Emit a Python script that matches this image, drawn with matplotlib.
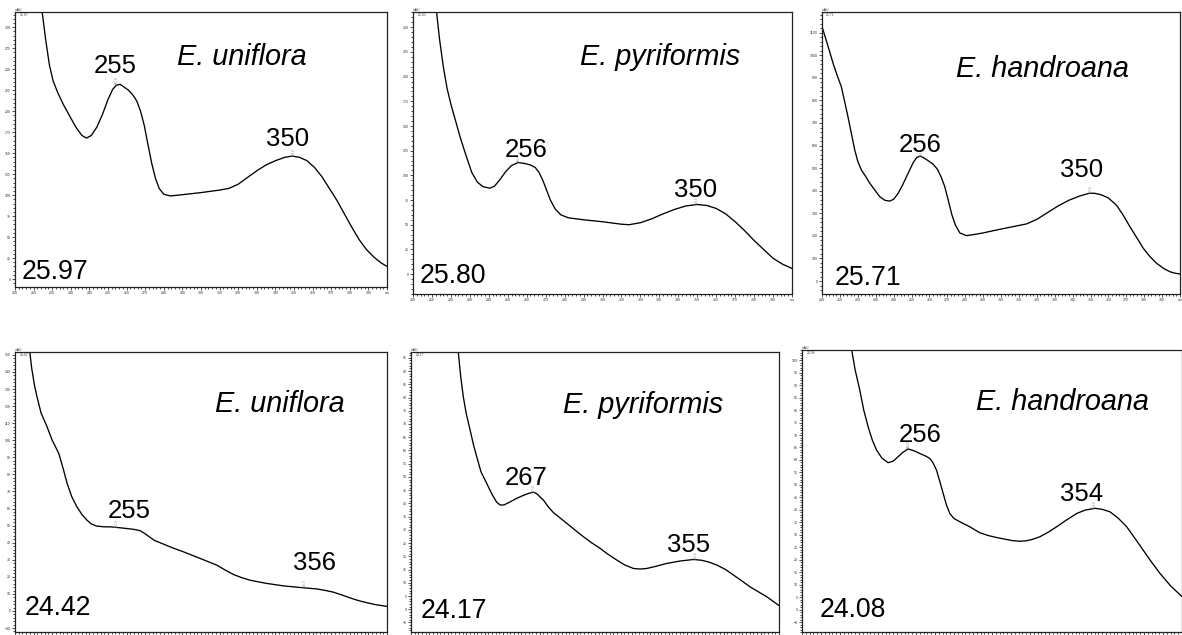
import matplotlib
matplotlib.use('Agg')
import matplotlib.pyplot as plt
import numpy as np
from matplotlib.ticker import MultipleLocator

plt.rcParams['font.family'] = ['Liberation Sans', 'DejaVu Sans']

W, H = 1182, 635

species = ['E. uniflora', 'E. pyriformis', 'E. handroana',
           'E. uniflora', 'E. pyriformis', 'E. handroana']
ret_times = ['25.97', '25.80', '25.71', '24.42', '24.17', '24.08']
peak_a = [255, 256, 256, 255, 267, 256]
peak_b = [350, 350, 350, 356, 355, 354]

# UV spectra (wavelength nm, absorbance mAU)
nm_1 = [214.5, 216.5, 218.5, 220.5, 223, 226, 229.7, 233, 236, 238.4, 241, 244, 247, 250,
        252.5, 254.5, 256.5, 258.5, 261, 263.5, 265.5, 267.5, 269.5, 271.5, 273.5, 275.5,
        277.5, 280, 283.5, 290, 300, 310, 315, 320, 325, 330, 335, 340, 345, 349, 353,
        357, 361, 365, 369, 373, 377, 381, 385, 389, 393, 397, 400]
abs_1 = [320, 285, 255, 236, 222, 208, 193, 180, 171, 168, 171, 181, 196, 214,
         226, 231, 232, 229, 225, 219, 212, 200, 183, 160, 138, 120,
         108, 101, 99, 100.5, 103, 106, 108, 113, 121, 129, 136, 141, 145, 146.5, 145,
         141, 133, 122, 108, 94, 78, 62, 47, 35, 26, 19, 15]

nm_2 = [212.3, 214, 216, 218, 220, 222.5, 225, 228, 231, 234, 237, 240.5, 243, 246, 249,
        252, 255.5, 259, 262, 264.5, 266.5, 268.5, 270.5, 272.5, 275, 278, 282, 290, 300,
        310, 314, 320, 326, 332, 338, 344, 350, 355, 360, 365, 370, 375, 380, 385, 390,
        395, 400]
abs_2 = [268, 238, 210, 188, 172, 155, 138, 120, 103, 93, 88.5, 87, 89, 96, 104,
         110, 113, 112, 110.5, 108, 103, 95, 85, 75, 66, 60, 57, 55, 53,
         50.5, 50, 52, 56, 61, 65.5, 69, 70.5, 69.5, 66.5, 61, 53, 44, 34, 25, 16,
         10, 5.7]

nm_3 = [200, 203, 206.2, 208.5, 210.8, 212.5, 214.5, 216.5, 218.3, 220, 222, 224.5, 226.7,
        229.5, 232.2, 235, 237.8, 240, 242.5, 245, 248.1, 251, 253, 255, 257, 259.5, 262,
        264.5, 266.5, 268.5, 270.5, 272.5, 274.5, 277, 280.7, 285, 290, 297.5, 306.8,
        314.3, 320, 326, 332, 338, 344.1, 349, 352, 356, 360, 364.6, 368, 372, 376,
        379.5, 383, 387, 391, 394.4, 397, 400]
abs_3 = [1127, 1050, 964, 910, 861, 800, 728, 650, 580, 530, 492, 462, 433,
         403, 374, 358, 354, 362, 388, 425, 477, 525, 548, 553, 545, 532, 518,
         495, 462, 420, 359, 295, 248, 213, 201, 206, 213, 226, 241,
         253, 273, 303, 333, 358, 377, 388, 389, 382, 368, 335, 295, 241, 190,
         145, 110, 78, 55, 41, 35, 31]

nm_4 = [207.5, 209, 210.5, 211.8, 214, 217.2, 220, 223.5, 226, 228, 230.5, 233.3, 236,
        238.7, 241, 244, 248, 251.3, 256, 260.2, 264, 267.4, 270, 272.8, 275, 278, 284,
        290.7, 300, 308.6, 313, 317.6, 322, 326.5, 335, 344.5, 353, 362.4, 367, 371.3,
        376, 380.3, 385, 389, 394, 400]
abs_4 = [156, 142, 132, 125.6, 116, 108, 100, 92.4, 83, 74.8, 67, 61, 56.5,
         53.2, 51, 49.7, 49.3, 49.3, 48.8, 48.3, 47.8, 47, 45.2, 43, 41.3, 40, 37.3,
         34.6, 30.6, 26.8, 24, 21.3, 19.5, 18, 16.2, 14.7, 13.8, 12.9, 12, 11,
         9.3, 7.6, 6, 4.9, 3.7, 2.7]

nm_5 = [225.3, 227, 228.4, 230, 232.1, 234, 235.7, 238, 241.1, 244, 246.5, 248.4, 250.5,
        254, 257.4, 261, 264, 266.5, 268.5, 270.3, 271.9, 274.5, 277.4, 281, 284.6, 289,
        293.7, 298, 302.8, 307, 311.8, 316, 320.9, 324.5, 328.1, 333, 339, 346, 353.5,
        358, 362, 366.2, 371, 375.3, 380, 384.4, 389, 393.4, 397, 400]
abs_5 = [100, 88, 80.4, 74, 67.8, 62, 57.7, 52, 47.6, 43.5, 40.5, 39.4, 39.4,
         40.6, 41.9, 43, 43.8, 44.2, 43.6, 42.3, 41.3, 38.8, 36.5, 34.5, 32.5, 30,
         27.4, 25.2, 23, 20.8, 18.6, 16.8, 15.4, 15.2, 15.4, 16.2, 17.3, 18.2, 18.8,
         18.5, 17.8, 16.7, 15, 12.9, 10.6, 8.4, 6.5, 4.7, 2.9, 1.4]

nm_6 = [225.5, 228, 230.4, 232.5, 234.8, 237, 239.2, 242, 245.3, 248, 250.6, 253, 255.8,
        258.5, 262, 265, 267.3, 269, 270.8, 272.5, 274.3, 276, 277.8, 280, 283.1, 288.3,
        293.6, 298, 302.4, 307, 311.1, 315, 318.2, 321.5, 325.2, 330, 334, 339, 344.5,
        349, 354.2, 358, 362.1, 366.5, 370.9, 375, 379.6, 384, 388.4, 394, 400]
abs_6 = [107, 96, 88.1, 80, 73.3, 68, 64, 60.8, 58.9, 59.5, 61.3, 63, 64.4,
         63.8, 62.6, 61.6, 60.6, 58.8, 55.9, 51.5, 46.6, 42, 38.5, 36.5, 35.2, 33.2,
         30.8, 29.7, 28.9, 28.2, 27.6, 27.4, 27.6, 28.2, 29.2, 31.2, 33.2, 35.8, 38.5,
         39.9, 40.6, 40.2, 39.2, 36.6, 33.2, 28.8, 23.8, 19, 14.5, 9.5, 5.2]

series = [(nm_1, abs_1), (nm_2, abs_2), (nm_3, abs_3),
          (nm_4, abs_4), (nm_5, abs_5), (nm_6, abs_6)]

# layout (pixel boxes: left, top, right, bottom)
boxes = [(15, 12, 387, 287), (413, 12, 792, 294), (822, 12, 1180, 294),
         (15, 352, 387, 632), (411, 352, 779, 632), (802, 350, 1182, 632)]
ylims = [(-9.5, 318.2), (-20.2, 265.5), (-57.5, 1191.6),
         (-12.3, 151.7), (-8.6, 97.2), (-9.0, 104.1)]
ymaj = [25, 25, 100, 10, 5, 5]
ymin = [5, 5, 20, 2, 1, 1]

# big labels positions in pixels (x, baseline y)
sp_pos = [(241.7, 65), (660, 65), (1042.5, 77.3), (280, 411.7), (643.3, 413.3), (1062.5, 410)]
rt_pos = [(21.7, 279.3), (420, 283.3), (835, 285), (25, 615), (420.7, 618.3), (820, 616.7)]
pa_pos = [(115.7, 73.3), (526, 156.7), (920, 151.7), (129.3, 518.3), (525.7, 485), (920, 441.7)]
pb_pos = [(287.7, 145.7), (696, 197.3), (1081.7, 176.7), (314.3, 570), (688.3, 551.7), (1081.7, 501)]

fig = plt.figure(figsize=(W / 100, H / 100), dpi=100)
FS_SP = 20.8
FS_RT = 19.2
FS_PK = 18.5
for i in range(6):
    L, T, R, B = boxes[i]
    ax = fig.add_axes([L / W, 1 - B / H, (R - L) / W, (B - T) / H])
    x, y = series[i]
    ax.plot(x, y, color='black', lw=0.95, solid_joinstyle='round')
    ax.set_xlim(200, 400)
    ax.set_ylim(*ylims[i])
    ax.xaxis.set_minor_locator(MultipleLocator(2))
    ax.yaxis.set_major_locator(MultipleLocator(ymaj[i]))
    ax.yaxis.set_minor_locator(MultipleLocator(ymin[i]))
    xt = np.arange(200, 401, 10)
    ax.set_xticks(xt)
    if i < 3:
        ax.set_xticklabels([str(v) if v < 400 else 'nm' for v in xt])
    else:
        ax.set_xticklabels([])
    ax.tick_params(which='major', length=2.2, width=0.6, labelsize=2.6,
                   colors='#333333', pad=1)
    ax.tick_params(which='minor', length=1.2, width=0.5)
    for s in ax.spines.values():
        s.set_linewidth(0.9)
        s.set_color('#222222')
    ax.text(0.0, 1.0, 'mAU', transform=ax.transAxes, fontsize=2.4,
            ha='left', va='bottom', color='#444444')
    ax.text(0.012, 0.995, ret_times[i], transform=ax.transAxes, fontsize=2.4,
            ha='left', va='top', color='#444444')
    # small peak markers
    for p in (peak_a[i], peak_b[i]):
        yv = float(np.interp(p, x, y))
        ax.annotate(f'{p}.0', (p, yv), xytext=(0, 0.5), textcoords='offset points',
                    rotation=90, fontsize=2.2, color='#888888', ha='center', va='bottom')
    fig.text(sp_pos[i][0] / W, 1 - sp_pos[i][1] / H, species[i], fontsize=FS_SP,
             style='italic', ha='center', va='baseline')
    fig.text(rt_pos[i][0] / W, 1 - rt_pos[i][1] / H, ret_times[i], fontsize=FS_RT,
             ha='left', va='baseline')
    fig.text(pa_pos[i][0] / W, 1 - pa_pos[i][1] / H, str(peak_a[i]), fontsize=FS_PK,
             ha='center', va='baseline')
    fig.text(pb_pos[i][0] / W, 1 - pb_pos[i][1] / H, str(peak_b[i]), fontsize=FS_PK,
             ha='center', va='baseline')

fig.savefig('out.png', dpi=100)
